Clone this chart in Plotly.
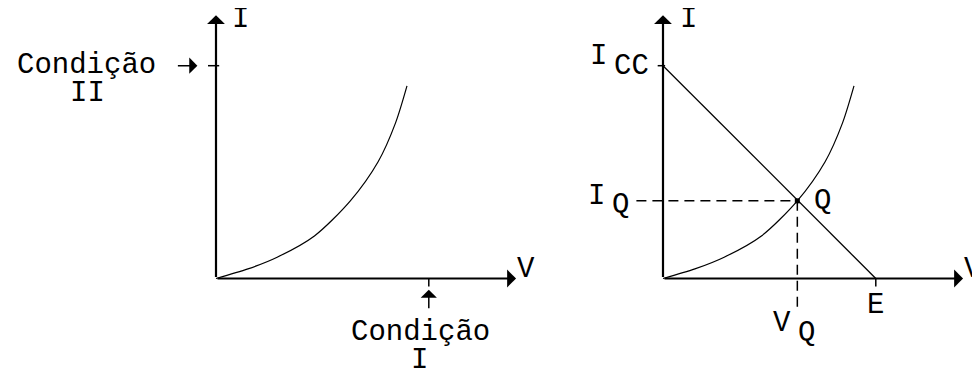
import plotly.graph_objects as go

# ---- data (arbitrary units) ----
V_curve = [0, 1.2, 2.3, 3.7, 5.05, 6.1, 6.75, 7.18]
I_curve = [0, 0.36, 0.8, 1.6, 2.92, 4.4, 5.85, 7.24]
E = 8.0          # open-circuit voltage (load line end / Condição I)
I_CC = 8.0       # short-circuit current (load line start / Condição II)
V_Q = 5.05       # operating point
I_Q = 2.92
V_AX = 11.28     # axis arrow lengths
I_AX = 9.9

# ---- layout geometry (page has an 8px body margin) ----
W, H = 980, 373
S = 26.6                 # px per unit
OX_L, OX_R, OY = 208, 655, 270.5

FONT = dict(family="Liberation Mono, Courier New, monospace", size=29, color="black")

fig = go.Figure()

def panel(xr, yr):
    fig.add_trace(go.Scatter(x=V_curve, y=I_curve, mode="lines", xaxis=xr, yaxis=yr,
                             line=dict(color="black", width=1.2, shape="spline", smoothing=0.8),
                             hoverinfo="skip", showlegend=False))

panel("x", "y")
panel("x2", "y2")

# load line
fig.add_trace(go.Scatter(x=[0, E], y=[I_CC, 0], mode="lines", xaxis="x2", yaxis="y2",
                         line=dict(color="black", width=1.3), showlegend=False, hoverinfo="skip"))
# dashed projections
fig.add_trace(go.Scatter(x=[-1.0, V_Q], y=[I_Q, I_Q], mode="lines", xaxis="x2", yaxis="y2",
                         line=dict(color="black", width=1.5, dash="10px,6px"), showlegend=False, hoverinfo="skip"))
fig.add_trace(go.Scatter(x=[V_Q, V_Q], y=[I_Q, -1.18], mode="lines", xaxis="x2", yaxis="y2",
                         line=dict(color="black", width=1.5, dash="10px,6px"), showlegend=False, hoverinfo="skip"))
fig.add_trace(go.Scatter(x=[V_Q], y=[I_Q], mode="markers", xaxis="x2", yaxis="y2",
                         marker=dict(symbol="square", size=5, color="black"), showlegend=False, hoverinfo="skip"))

ann = []
shapes = []

def axes_arrows(xr, yr):
    for (x, y) in [(V_AX, 0), (0, I_AX)]:
        ann.append(dict(x=x, y=y, ax=0, ay=0, xref=xr, yref=yr, axref=xr, ayref=yr,
                        text="", showarrow=True, arrowhead=1, arrowsize=1.35, arrowwidth=2.2,
                        arrowcolor="black"))

def label(text, xr, yr, x, y, dx=0, dy=0, xanchor="center"):
    ann.append(dict(text=text, x=x, y=y, xref=xr, yref=yr, xshift=dx, yshift=dy,
                    xanchor=xanchor, yanchor="middle", showarrow=False, font=FONT))

def seg(xr, yr, x0, y0, x1, y1, w=1.5):
    shapes.append(dict(type="line", xref=xr, yref=yr, x0=x0, y0=y0, x1=x1, y1=y1,
                       line=dict(color="black", width=w)))

# ---- left panel ----
axes_arrows("x", "y")
label("I", "x", "y", 0, I_AX, 24, -4)
label("V", "x", "y", V_AX, 0, 10, 9)
seg("x", "y", -0.3, I_CC, 0.12, I_CC)
ann.append(dict(x=-0.7, y=I_CC, xref="x", yref="y", ax=-21, ay=0, text="", showarrow=True,
                arrowhead=1, arrowsize=1.8, arrowwidth=1.5, arrowcolor="black"))
label("Condição", "x", "y", 0, I_CC, -58, 0, xanchor="right")
label("II", "x", "y", 0, I_CC, -129, -28)
seg("x", "y", E, 0, E, -0.3)
ann.append(dict(x=E, y=-0.42, xref="x", yref="y", ax=0, ay=20, text="", showarrow=True,
                arrowhead=1, arrowsize=1.8, arrowwidth=1.5, arrowcolor="black"))
label("Condição", "x", "y", E, 0, -8, -54)
label("I", "x", "y", E, 0, -9, -82)

# ---- right panel ----
axes_arrows("x2", "y2")
label("I", "x2", "y2", 0, I_AX, 25, -4)
label("V", "x2", "y2", V_AX, 0, 10, 9)
seg("x2", "y2", -0.2, I_CC, 0.08, I_CC)
label("I", "x2", "y2", 0, I_CC, -65, 9)
label("CC", "x2", "y2", 0, I_CC, -32, -1)
label("I", "x2", "y2", 0, I_Q, -67, 4)
label("Q", "x2", "y2", 0, I_Q, -43, -5)
label("Q", "x2", "y2", V_Q, I_Q, 25, -1)
label("V", "x2", "y2", V_Q, 0, -15, -45)
label("Q", "x2", "y2", V_Q, 0, 9, -55)
seg("x2", "y2", E, 0, E, -0.3)
label("E", "x2", "y2", E, 0, 0, -27)

def xrange(ox):
    return [-ox / S, (W - ox) / S]

yr = [-(H - OY) / S, OY / S]
ax_common = dict(visible=False, showgrid=False, zeroline=False, fixedrange=True)

fig.update_layout(
    width=W, height=H, margin=dict(l=0, r=0, t=0, b=0),
    paper_bgcolor="white", plot_bgcolor="rgba(0,0,0,0)",
    xaxis=dict(range=xrange(OX_L), domain=[0, 1], **ax_common),
    yaxis=dict(range=yr, domain=[0, 1], **ax_common),
    xaxis2=dict(range=xrange(OX_R), domain=[0, 1], overlaying="x", anchor="y2", **ax_common),
    yaxis2=dict(range=yr, domain=[0, 1], overlaying="y", anchor="x2", **ax_common),
    annotations=ann, shapes=shapes, showlegend=False,
)

fig.write_html("out.html")
